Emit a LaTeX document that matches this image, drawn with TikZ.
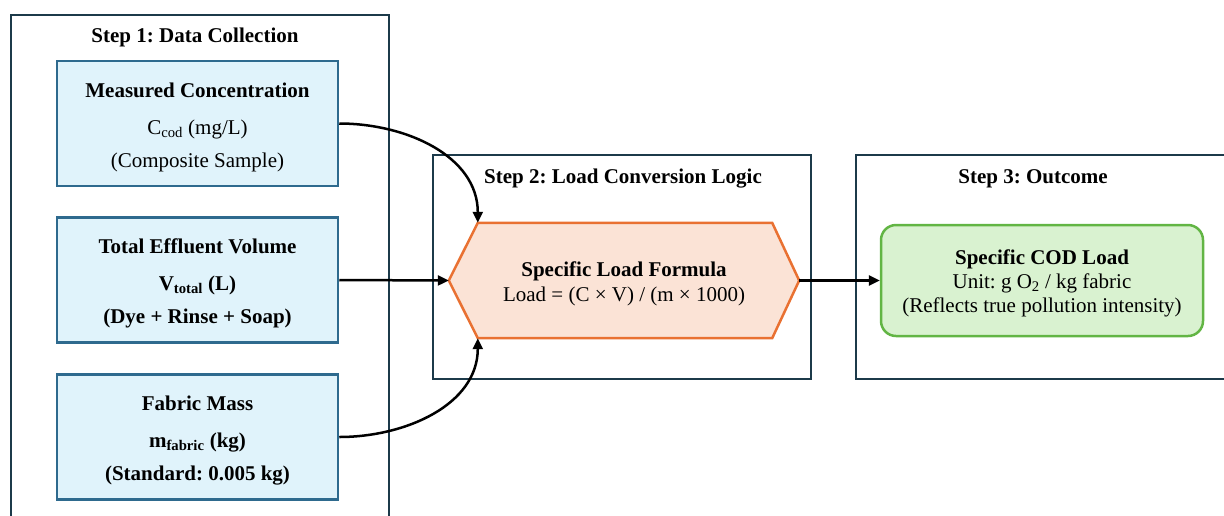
\documentclass[tikz,border=0pt]{standalone}
\usepackage{fontspec}
\setmainfont{Liberation Serif}
\frenchspacing
\usetikzlibrary{arrows.meta,backgrounds,calc}

\definecolor{frameC}{HTML}{1C3A4A}
\definecolor{inBorder}{HTML}{2E6A8E}
\definecolor{inFill}{HTML}{E0F3FB}
\definecolor{hexBorder}{HTML}{E97132}
\definecolor{hexFill}{HTML}{FBE3D6}
\definecolor{outBorder}{HTML}{62B544}
\definecolor{outFill}{HTML}{D9F2D0}

% extra headroom above the first text line of a box
\newcommand{\toplift}[1]{\rule{0pt}{#1}}

\tikzset{
  stage/.style={draw=frameC, line width=2pt},
  stagetitle/.style={font=\fontsize{21}{24}\selectfont\bfseries},
  inputbox/.style={draw=inBorder, fill=inFill, line width=2.5pt,
    minimum width=281pt, minimum height=125pt, align=center,
    font=\fontsize{21}{33}\selectfont},
  formulabox/.style={minimum width=350pt, minimum height=115pt, align=center,
    font=\fontsize{21}{25}\selectfont},
  hexline/.style={draw=hexBorder, fill=hexFill, line width=2.5pt, line join=miter},
  outbox/.style={draw=outBorder, fill=outFill, line width=2.5pt, rounded corners=15pt,
    minimum width=322pt, minimum height=111pt, align=center,
    font=\fontsize{21}{24}\selectfont},
  flow/.style={draw=black, line width=2.5pt, -{Triangle[length=11pt,width=10pt]}},
}

\begin{document}
\begin{tikzpicture}[x=1pt, y=-1pt]
  \useasboundingbox (0,0) rectangle (1224,515);
  \clip (0,0) rectangle (1224,515);

  % stage frames
  \draw[stage] (11,15) rectangle (389,540);
  \draw[stage] (433,155) rectangle (811,379);
  \draw[stage] (856,155) rectangle (1250,379);

  \node[stagetitle] (t1) at (195,37) {Step 1: Data Collection};
  \node[stagetitle] (t2) at (623,179) {Step 2: Load Conversion Logic};
  \node[stagetitle] (t3) at (1033,179) {Step 3: Outcome};

  % inputs
  \node[inputbox] (conc) at (197.5,123.5)
    {\toplift{22pt}\textbf{Measured Concentration}\\[4pt]
     C\textsubscript{cod} (mg/L)\\
     (Composite Sample)};
  \node[inputbox] (vol) at (197.5,280)
    {\toplift{22pt}\textbf{Total Effluent Volume}\\[4pt]
     \textbf{V\textsubscript{total} (L)}\\
     \textbf{(Dye + Rinse + Soap)}};
  \node[inputbox] (mass) at (197.5,437)
    {\toplift{22pt}\textbf{Fabric Mass}\\[4pt]
     \textbf{m\textsubscript{fabric} (kg)}\\
     \textbf{(Standard: 0.005 kg)}};

  % conversion
  \node[formulabox] (formula) at (624,280.5)
    {\toplift{20.5pt}\textbf{Specific Load Formula}\\
     Load = (C × V) / (m × 1000)};
  \coordinate (hexTL) at ([xshift=29pt]formula.north west);
  \coordinate (hexTR) at ([xshift=-27pt]formula.north east);
  \coordinate (hexBL) at ([xshift=29pt]formula.south west);
  \coordinate (hexBR) at ([xshift=-27pt]formula.south east);
  \begin{scope}[on background layer]
    \path[hexline] (formula.west) -- (hexTL) -- (hexTR) -- (formula.east)
      -- (hexBR) -- (hexBL) -- cycle;
  \end{scope}

  % outcome
  \node[outbox] (load) at (1042,280.5)
    {\toplift{20.5pt}\textbf{Specific COD Load}\\
     Unit: g O\textsubscript{2} / kg fabric\\
     (Reflects true pollution intensity)};

  % connectors
  \draw[flow] (conc.east) to[out=0, in=90] (hexTL);
  \draw[flow] (vol.east) -- (formula.west);
  \draw[flow] (mass.east) to[out=0, in=-90] (hexBL);
  \draw[flow] (formula.east) -- (load.west);
\end{tikzpicture}
\end{document}
